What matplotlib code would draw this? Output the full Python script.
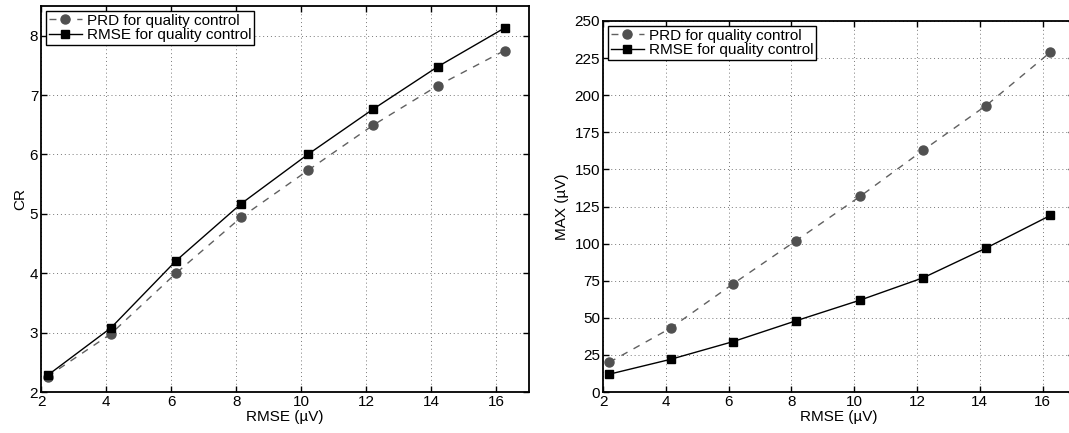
import numpy as np
import matplotlib
matplotlib.use("Agg")
import matplotlib.pyplot as plt

plt.rcParams['font.family'] = ['Liberation Sans', 'DejaVu Sans']
plt.rcParams['font.size'] = 11

# data
rmse = [2.2, 4.15, 6.15, 8.15, 10.2, 12.2, 14.2, 16.25]
cr_prd = [2.26, 2.98, 4.0, 4.94, 5.73, 6.49, 7.16, 7.75]
cr_rmse = [2.28, 3.08, 4.21, 5.17, 6.0, 6.76, 7.48, 8.13]
max_prd = [20, 43, 73, 102, 132, 163, 193, 229]
max_rmse = [12, 22, 34, 48, 62, 77, 97, 119]

labels = ['PRD for quality control', 'RMSE for quality control']

fig = plt.figure(figsize=(10.69, 4.33), dpi=100)
W, H = 1069, 433
ax1 = fig.add_axes([41 / W, (H - 392) / H, (529 - 41) / W, (392 - 6) / H])
ax2 = fig.add_axes([603 / W, (H - 392) / H, (1074 - 603) / W, (392 - 21) / H])


def style(ax):
    ax.grid(True, linestyle=(0, (1, 3)), color='#777777', linewidth=0.7)
    ax.tick_params(direction='in', top=True, right=True, length=4, width=1, labelsize=11, pad=2)
    for s in ax.spines.values():
        s.set_linewidth(1.3)
    ax.set_xticks(np.arange(2, 17, 2))
    ax.set_xlim(2, 17)
    ax.set_xlabel('RMSE (\u00b5V)', labelpad=1)


def draw(ax, prd, rm):
    ax.plot(rmse, prd, '--', color='#606060', lw=1, marker='o', ms=6.5,
            mfc='#505050', mec='#505050', dashes=(5, 5), label=labels[0])
    ax.plot(rmse, rm, '-', color='black', lw=1, marker='s', ms=5.5,
            mfc='black', mec='black', label=labels[1])


draw(ax1, cr_prd, cr_rmse)
style(ax1)
ax1.set_ylim(2, 8.5)
ax1.set_yticks(np.arange(2, 9, 1))
ax1.set_ylabel('CR', labelpad=2)

draw(ax2, max_prd, max_rmse)
style(ax2)
ax2.set_ylim(0, 250)
ax2.set_yticks(np.arange(0, 251, 25))
ax2.set_ylabel('MAX (\u00b5V)', labelpad=4)

for ax in (ax1, ax2):
    leg = ax.legend(loc='upper left', fancybox=False, edgecolor='black',
                    framealpha=1, borderaxespad=0.3, handlelength=2.2,
                    handletextpad=0.3, borderpad=0.2, labelspacing=0.05,
                    fontsize=11)
    leg.get_frame().set_linewidth(1)

fig.savefig('out.png', dpi=100)
